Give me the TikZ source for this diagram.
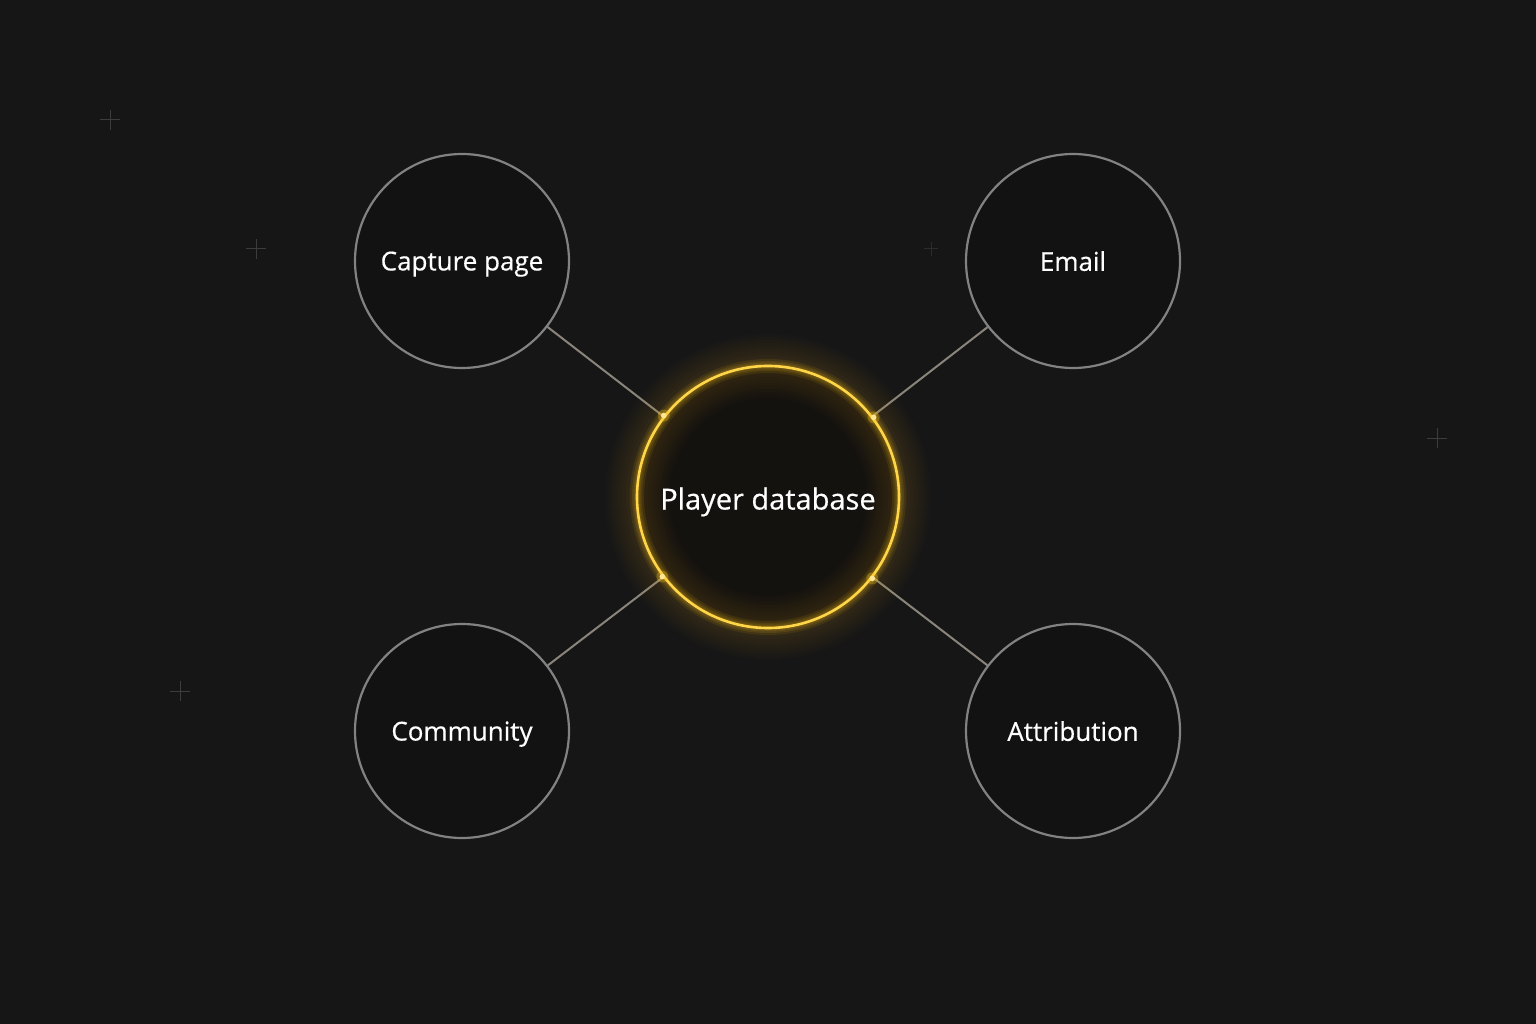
\documentclass[tikz,border=0pt]{standalone}
\usepackage{fontspec}
\setmainfont{Open Sans}[FakeBold=0.5]
\definecolor{bgc}{HTML}{161616}
\definecolor{nodefill}{HTML}{121212}
\definecolor{ringgray}{HTML}{828282}
\definecolor{conngray}{HTML}{8A857A}
\definecolor{gold}{HTML}{F7C21A}
\definecolor{goldcore}{HTML}{FFD54A}
\definecolor{centerfill}{HTML}{14120F}
\definecolor{plusgray}{HTML}{3C3C3C}
\pgfdeclarelayer{back}
\pgfdeclarelayer{mid}
\pgfsetlayers{back,mid,main}
\begin{document}
\begin{tikzpicture}[x=1pt,y=-1pt,
  outer/.style={circle,draw=ringgray,line width=2.2pt,fill=nodefill,minimum size=214pt,inner sep=0pt,text=white,text depth=0pt,font=\fontsize{26}{30}\selectfont},
  hub/.style={circle,draw=goldcore,line width=2.6pt,minimum size=262pt,inner sep=0pt,text=white,text depth=0pt,font=\fontsize{29}{34}\selectfont},
  conn/.style={draw=conngray,line width=2pt},
  plusmark/.style={draw=plusgray,line width=1pt}]
\begin{pgfonlayer}{back}
  \fill[bgc] (0,0) rectangle (1536,1024);
\end{pgfonlayer}
\useasboundingbox (0,0) rectangle (1536,1024);
% plus marks
\foreach \px/\py in {110/120,256/249,1437/438,180/691} {
  \draw[plusmark] (\px-10,\py) -- (\px+10,\py) (\px,\py-10) -- (\px,\py+10);
}
\draw[plusmark,draw opacity=0.6] (924,249) -- (938,249) (931,242) -- (931,256);
% hub fill and glow
\fill[centerfill] (768,497) circle (131pt);
\foreach \w in {64,58,...,10} {
  \draw[gold,line width=\w pt,opacity=0.014] (768,497) circle (131pt);
}
\foreach \w in {14,10,7,5} {
  \draw[gold,line width=\w pt,opacity=0.09] (768,497) circle (131pt);
}
% nodes
\node[hub] (db) at (768,497) {\raisebox{-3pt}{Player database}};
\node[outer] (cap) at (462,261) {Capture page};
\node[outer] (mail) at (1073,261) {Email};
\node[outer] (comm) at (462,731) {Community};
\node[outer] (attr) at (1073,731) {Attribution};
% connectors
\begin{pgfonlayer}{mid}
  \draw[conn] (cap) -- (db);
  \draw[conn] (mail) -- (db);
  \draw[conn] (comm) -- (db);
  \draw[conn] (attr) -- (db);
\end{pgfonlayer}
% junction dots
\foreach \a in {142.5,37.5,217.5,322.5} {
  \fill[gold,opacity=0.3] (db.\a) circle (6pt);
  \fill[goldcore!60!white] (db.\a) circle (2.8pt);
}
\end{tikzpicture}
\end{document}
